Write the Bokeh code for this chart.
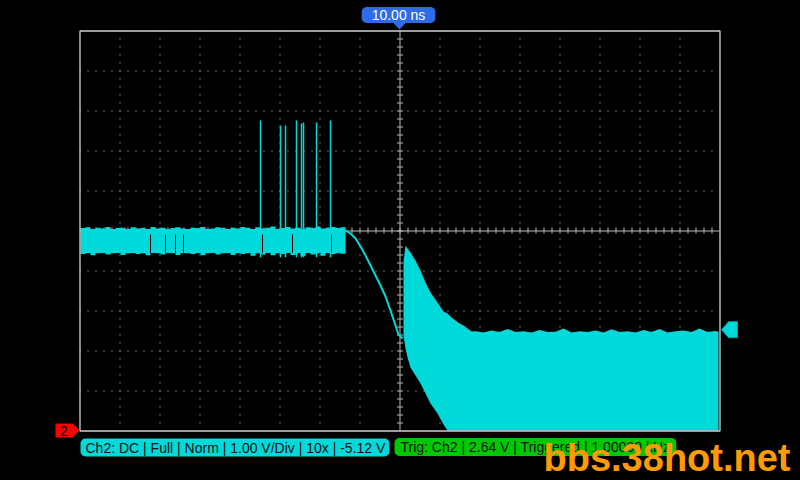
import numpy as np
from bokeh.plotting import figure
from bokeh.models import Range1d, Label
from bokeh.embed import file_html
from bokeh.resources import INLINE

# ---------------- scope settings / texts ----------------
CH2_CENTER_V = 5.12        # volts at screen centre (offset -5.12 V)
V_PER_DIV = 1.00
TRIG_LEVEL_V = 2.64
H_DIVS, V_DIVS = 16, 10
TOP_LABEL = "10.00 ns"
CH2_TEXT = "Ch2: DC | Full | Norm | 1.00 V/Div | 10x | -5.12 V"
TRIG_TEXT = "Trig: Ch2 | 2.64 V | Triggered | 1.00000 kHz"
WATERMARK = "bbs.38hot.net"

# ---------------- waveform data (time in div from trigger, volts) ----------------
# pre-trigger noisy high level (min/max envelope per display column)
band_step = 0.125
band_t = np.round(-7.975 + band_step * np.arange(53), 4)
band_top = [5.18, 5.20, 5.16, 5.19, 5.17, 5.21, 5.16, 5.18, 5.19, 5.16,
            5.20, 5.17, 5.18, 5.16, 5.21, 5.17, 5.19, 5.16, 5.18, 5.20,
            5.17, 5.16, 5.19, 5.18, 5.21, 5.16, 5.17, 5.20, 5.18, 5.16,
            5.19, 5.17, 5.21, 5.18, 5.16, 5.20, 5.17, 5.19, 5.22, 5.16,
            5.18, 5.21, 5.17, 5.19, 5.16, 5.20, 5.18, 5.22, 5.17, 5.19,
            5.21, 5.18, 5.20]
band_bot = [4.53, 4.56, 4.50, 4.55, 4.56, 4.52, 4.55, 4.56, 4.51, 4.55,
            4.56, 4.53, 4.55, 4.50, 4.56, 4.55, 4.52, 4.56, 4.55, 4.51,
            4.56, 4.55, 4.53, 4.56, 4.50, 4.55, 4.56, 4.52, 4.55, 4.56,
            4.51, 4.55, 4.53, 4.56, 4.49, 4.55, 4.52, 4.56, 4.50, 4.55,
            4.53, 4.56, 4.51, 4.55, 4.48, 4.56, 4.52, 4.55, 4.49, 4.56,
            4.53, 4.55, 4.54]

# dropouts inside the band
drop_t = [-6.225, -5.85, -5.6, -5.4, -3.425, -2.675, -1.7]
drop_hi, drop_lo = 5.02, 4.56

# glitches (spikes) above the band
spike_t = [-3.475, -2.975, -2.85, -2.575, -2.45, -2.4, -2.075, -1.725]
spike_top = [7.87, 7.745, 7.745, 7.87, 7.795, 7.82, 7.82, 7.87]
spike_base = 4.45

# falling edge trace
fall_t = [-1.35, -1.225, -1.1, -0.975, -0.85, -0.725, -0.6, -0.475, -0.35,
          -0.225, -0.1, -0.025, 0.075]
fall_v = [5.12, 5.045, 4.92, 4.72, 4.495, 4.245, 3.995, 3.745, 3.47,
          3.12, 2.745, 2.52, 2.42]

# post-trigger ringing envelope
decay_t = [0.1, 0.15, 0.2, 0.275, 0.4, 0.525, 0.65, 0.775, 0.95, 1.1, 1.2,
           1.3, 1.4, 1.5, 1.6, 1.7, 1.8]
decay_top = [4.345, 4.745, 4.67, 4.57, 4.37, 4.12, 3.82, 3.57, 3.32, 3.095,
             3.045, 2.945, 2.87, 2.795, 2.745, 2.67, 2.595]
decay_bot = [2.495, 2.17, 1.945, 1.695, 1.495, 1.295, 1.045, 0.795, 0.545,
             0.27, 0.12, 0.12, 0.12, 0.12, 0.12, 0.12, 0.12]
flat_t = list(np.round(np.arange(1.9, 7.95, 0.2), 3)) + [7.975]
flat_top = [2.60, 2.57, 2.62, 2.58, 2.66, 2.58, 2.60, 2.57, 2.63, 2.58,
            2.59, 2.67, 2.57, 2.60, 2.58, 2.62, 2.57, 2.65, 2.58, 2.60,
            2.57, 2.63, 2.58, 2.66, 2.57, 2.60, 2.62, 2.58, 2.67, 2.58,
            2.61, 2.59]

# ---------------- layout ----------------
W, H = 800, 480
PX = 40.0                      # pixels per division
GRID_L, GRID_T = 79, 30        # top-left of graticule on the page
X0 = -H_DIVS / 2 - GRID_L / PX
Y1 = CH2_CENTER_V + (GRID_T + V_DIVS / 2 * PX) / PX * V_PER_DIV
SCREEN_BOT = CH2_CENTER_V - V_DIVS / 2 * V_PER_DIV
SCREEN_TOP = CH2_CENTER_V + V_DIVS / 2 * V_PER_DIV


def X(px):
    return X0 + px / PX


def Y(py):
    return Y1 - py / PX * V_PER_DIV


CYAN = "#00D9D9"
GRID_C = "#C4C4C4"

p = figure(width=W, height=H,
           x_range=Range1d(X0, X0 + W / PX), y_range=Range1d(Y1 - H / PX, Y1),
           output_backend="svg", toolbar_location=None, min_border=0,
           x_axis_location=None, y_axis_location=None,
           background_fill_color="black", border_fill_color="black",
           outline_line_color=None)
p.grid.grid_line_color = None

try:
    from bokeh.models import GlobalInlineStyleSheet
    p.stylesheets = [GlobalInlineStyleSheet(
        css="html,body{margin:0 !important;padding:0;background:#000;overflow:hidden;}")]
except Exception:
    pass

HP = 0.5 / PX  # half pixel
# dotted graticule
vx = [k + HP for k in range(-7, 8) if k != 0]
p.segment(x0=vx, y0=[SCREEN_TOP] * len(vx), x1=vx, y1=[SCREEN_BOT] * len(vx),
          line_color=GRID_C, line_width=1, line_dash="1 7")
hy = [CH2_CENTER_V + k * V_PER_DIV - HP for k in range(-4, 5) if k != 0]
p.segment(x0=[-8] * len(hy), y0=hy, x1=[8] * len(hy), y1=hy,
          line_color=GRID_C, line_width=1, line_dash="1 7")
# centre cross with ticks
p.segment(x0=[HP, -8], y0=[SCREEN_TOP, CH2_CENTER_V - HP],
          x1=[HP, 8], y1=[SCREEN_BOT, CH2_CENTER_V - HP],
          line_color="#B8B8B8", line_width=1)
tk_y = CH2_CENTER_V + np.arange(-24, 25) * 0.2 * V_PER_DIV - HP
p.segment(x0=[-3 / PX + HP] * len(tk_y), y0=tk_y, x1=[3 / PX + HP] * len(tk_y), y1=tk_y,
          line_color="#B8B8B8", line_width=1)
tk_x = np.arange(-39, 40) * 0.2 + HP
p.segment(x0=tk_x, y0=[CH2_CENTER_V + 3 / PX] * len(tk_x), x1=tk_x,
          y1=[CH2_CENTER_V - 3 / PX] * len(tk_x), line_color="#B8B8B8", line_width=1)

# ---------------- waveform ----------------
# noisy band drawn as one stepped area (one column per display bucket)
step_x = np.column_stack([band_t, band_t + band_step]).ravel()
step_top = np.repeat(band_top, 2)
step_bot = np.repeat(band_bot, 2)
p.varea(x=step_x, y1=step_bot, y2=step_top, fill_color=CYAN)
p.segment(x0=drop_t, y0=[drop_hi] * len(drop_t), x1=drop_t, y1=[drop_lo] * len(drop_t),
          line_color="black", line_width=1)
p.segment(x0=spike_t, y0=[spike_base] * len(spike_t), x1=spike_t, y1=spike_top,
          line_color=CYAN, line_width=1.5)
p.line(fall_t, fall_v, line_color=CYAN, line_width=2)
post_t = decay_t + flat_t
post_top = decay_top + flat_top
post_bot = decay_bot + [SCREEN_BOT] * len(flat_t)
p.varea(x=post_t, y1=post_bot, y2=post_top, fill_color=CYAN)

# graticule border
p.quad(left=[-8 + HP], right=[8 + HP], bottom=[SCREEN_BOT - HP], top=[SCREEN_TOP - HP],
       fill_color=None, line_color="#D0D0D0", line_width=1.3)

# ---------------- markers ----------------
# horizontal position marker (top)
p.patch([X(392.5), X(405.5), X(399)], [Y(22), Y(22), Y(29)],
        fill_color="#2E6BE6", line_color=None)
p.add_layout(Label(x=X(398), y=Y(14.5), text=TOP_LABEL, text_align="center",
                   text_baseline="middle", text_font="Liberation Sans",
                   text_font_size="14px", text_color="white",
                   background_fill_color="#2E6BE6",
                   padding=dict(left=10, right=10, top=0, bottom=0),
                   border_radius=5))
# channel ground marker (clipped to bottom of screen)
gy = max(CH2_CENTER_V - CH2_CENTER_V, SCREEN_BOT)
gp = (Y1 - gy) * PX  # page px of the marker
p.patch([X(55), X(72), X(79), X(72), X(55)],
        [Y(gp - 7), Y(gp - 7), Y(gp), Y(gp + 7), Y(gp + 7)],
        fill_color="#FF0000", line_color=None)
p.add_layout(Label(x=X(63.5), y=Y(gp), text="2", text_align="center",
                   text_baseline="middle", text_font="Liberation Sans",
                   text_font_size="14px", text_color="black"))
# trigger level marker (right)
tp = (Y1 - TRIG_LEVEL_V) * PX
p.patch([X(721), X(728), X(737), X(737), X(728)],
        [Y(tp), Y(tp - 8), Y(tp - 8), Y(tp + 8), Y(tp + 8)],
        fill_color=CYAN, line_color="#009999", line_width=1)

# ---------------- status bar ----------------
p.add_layout(Label(x=X(80), y=Y(447), text=CH2_TEXT, text_align="left",
                   text_baseline="middle", text_font="Liberation Sans",
                   text_font_size="14px", text_color="#101010",
                   background_fill_color=CYAN,
                   padding=dict(left=5, right=4, top=1, bottom=1),
                   border_radius=5))
p.add_layout(Label(x=X(394), y=Y(446.5), text=TRIG_TEXT, text_align="left",
                   text_baseline="middle", text_font="Liberation Sans",
                   text_font_size="14px", text_color="#101010",
                   background_fill_color="#00C800",
                   padding=dict(left=6, right=6, top=1, bottom=1),
                   border_radius=5))
p.add_layout(Label(x=X(543), y=Y(457), text=WATERMARK, text_align="left",
                   text_baseline="middle", text_font="Liberation Sans",
                   text_font_size="38px", text_font_style="bold",
                   text_color="#FF9A00"))

open("out.html", "w").write(file_html(p, INLINE))
